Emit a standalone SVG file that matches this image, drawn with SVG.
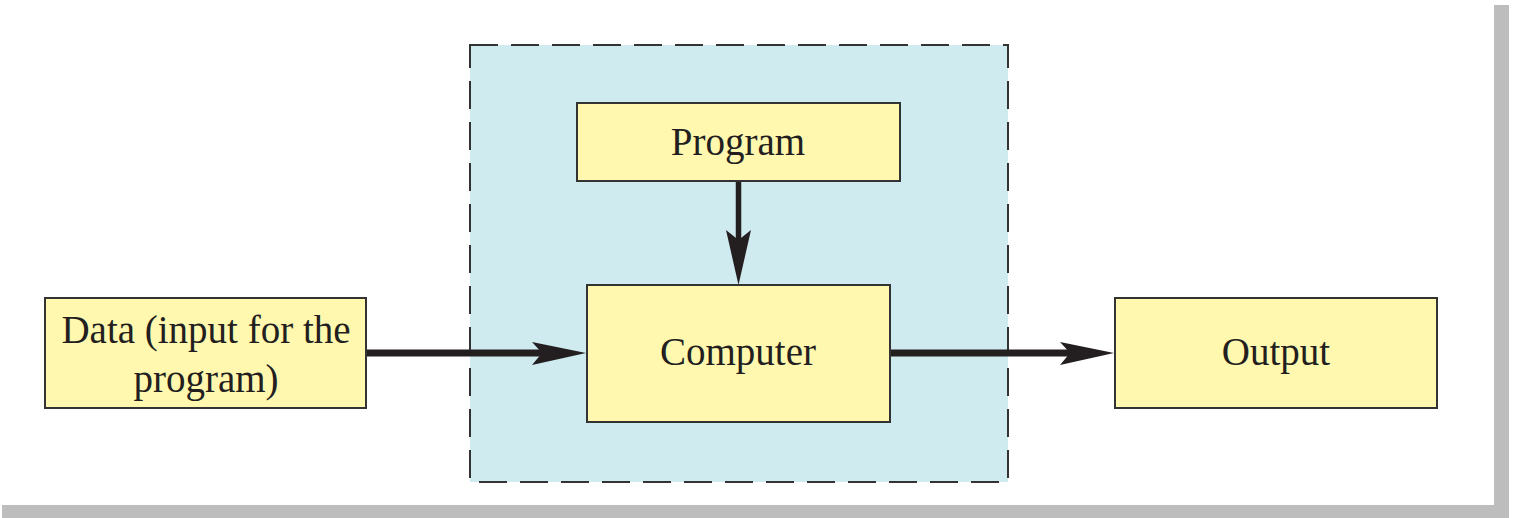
<svg xmlns="http://www.w3.org/2000/svg" width="1513" height="518" viewBox="0 0 1513 518">
  <style>
    .box { fill: #fff8ae; stroke: #333; stroke-width: 2; }
    .lbl { font-family: "Liberation Serif", "Times New Roman", serif; font-size: 39px; fill: #231f20; text-anchor: middle; }
    .wire { stroke: #231f20; fill: none; }
    .head { fill: #231f20; }
  </style>
  <rect width="1513" height="518" fill="#fff"/>
  <!-- page frame shadow -->
  <rect x="1494" y="5" width="15" height="513" fill="#bdbdbd"/>
  <rect x="2" y="505" width="1507" height="13" fill="#bdbdbd"/>

  <!-- computer boundary -->
  <g id="system">
    <rect x="470" y="45" width="538" height="437" fill="#cfebef" stroke="#333" stroke-width="2" stroke-dasharray="28 13"/>
  </g>

  <g id="program">
    <rect class="box" x="577" y="103" width="323" height="78"/>
    <text class="lbl" x="738" y="155">Program</text>
  </g>

  <g id="computer">
    <rect class="box" x="587" y="285" width="303" height="137"/>
    <text class="lbl" x="738" y="365">Computer</text>
  </g>

  <g id="data">
    <rect class="box" x="45" y="298" width="321" height="110"/>
    <text class="lbl" x="206" y="343">Data (input for the</text>
    <text class="lbl" x="206" y="392">program)</text>
  </g>

  <g id="output">
    <rect class="box" x="1115" y="298" width="322" height="110"/>
    <text class="lbl" x="1276" y="365">Output</text>
  </g>

  <g id="connectors">
    <!-- data to computer -->
    <line class="wire" x1="367" y1="353" x2="545" y2="353" stroke-width="7"/>
    <path class="head" d="M586,353 L532,342 L542,353 L532,365 Z"/>
    <!-- computer to output -->
    <line class="wire" x1="891" y1="353" x2="1072" y2="353" stroke-width="7"/>
    <path class="head" d="M1114,353 L1060,342 L1070,353 L1060,365 Z"/>
    <!-- program to computer -->
    <line class="wire" x1="738.5" y1="182" x2="738.5" y2="242" stroke-width="5.5"/>
    <path class="head" d="M738.5,285 L726,230 L738.5,240 L751,230 Z"/>
  </g>
</svg>
